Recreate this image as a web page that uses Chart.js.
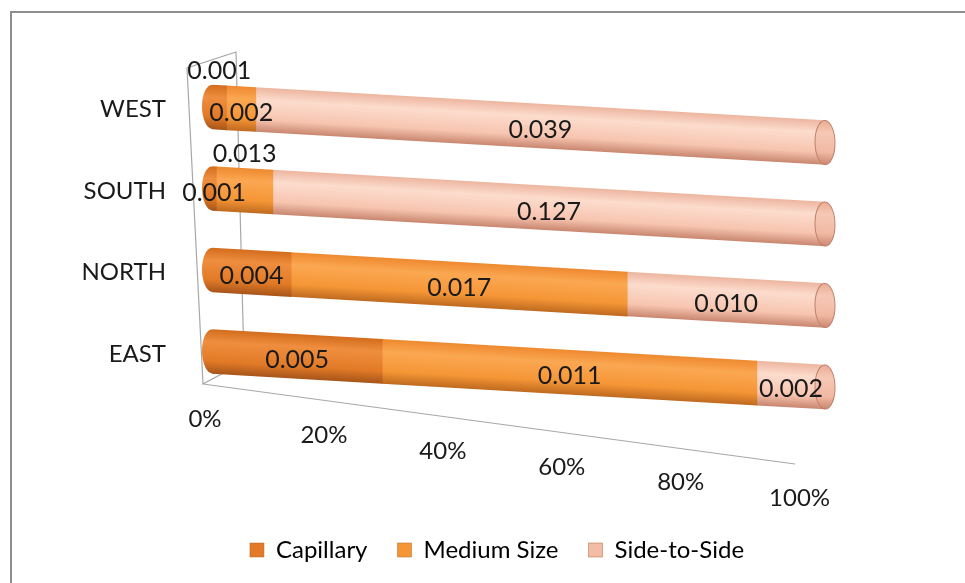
<!DOCTYPE html>
<html>
<head>
<meta charset="utf-8">
<script src="https://cdn.jsdelivr.net/npm/chart.js@4/dist/chart.umd.min.js"></script>
<style>
  html, body { margin: 0; padding: 0; background: #ffffff; overflow: hidden; }
  #frame { position: absolute; left: 10px; top: 11px; width: 1000px; height: 640px;
           border-left: 2px solid #8e8e8e; border-top: 2px solid #8e8e8e; }
  #wrap { position: absolute; left: 0; top: 0; width: 965px; height: 583px; }
</style>
</head>
<body>
<div id="frame"></div>
<div id="wrap"><canvas id="c" width="965" height="583"></canvas></div>
<script>
// ---- data ----
const categories   = ['WEST', 'SOUTH', 'NORTH', 'EAST'];
const seriesNames  = ['Capillary', 'Medium Size', 'Side-to-Side'];
const capillary    = [0.001, 0.001, 0.004, 0.005];
const mediumSize   = [0.002, 0.013, 0.017, 0.011];
const sideToSide   = [0.039, 0.127, 0.010, 0.002];
const xTickValues  = [0, 20, 40, 60, 80, 100];
const xTickLabels  = ['0%', '20%', '40%', '60%', '80%', '100%'];

// 100% stacked table built from the arrays
const rawSeries = [capillary, mediumSize, sideToSide];
const totals = categories.map((_, i) => capillary[i] + mediumSize[i] + sideToSide[i]);
const pctSeries = rawSeries.map(s => s.map((v, i) => v / totals[i] * 100));

// ---- styles ----
const FONT = 'Lato, "Open Sans", sans-serif';
const BAR_H = 44;
const SLOPE = 0.058;   // perspective tilt of the bars
const palettes = [
  ['#D46D1E', '#EE8E3E', '#E27A27', '#A8561A'],
  ['#EE8A30', '#FBA752', '#F59636', '#C06B20'],
  ['#EDB6A0', '#FCDCCD', '#F7C5B0', '#C98770']
];
const legendColors = ['#E27A27', '#F59636', '#F3BCA6'];
const raisedLabels = { '0-0': true, '1-1': true }; // category-series labels lifted above the bar

function cylGrad(c, yc, cols) {
  const g = c.createLinearGradient(0, yc - BAR_H / 2, 0, yc + BAR_H / 2);
  g.addColorStop(0, cols[0]);
  g.addColorStop(0.28, cols[1]);
  g.addColorStop(0.72, cols[2]);
  g.addColorStop(1, cols[3]);
  return g;
}

const framePlugin = {
  id: 'frame3d',
  beforeDatasetsDraw(chart) {
    const { ctx, chartArea: a } = chart;
    ctx.save();
    ctx.strokeStyle = '#a8a8a8';
    ctx.lineWidth = 1.2;
    ctx.beginPath();
    ctx.moveTo(a.left - 9, a.bottom - 26);
    ctx.lineTo(a.left - 25, a.top - 16);
    ctx.lineTo(a.left + 24, a.top - 32);
    ctx.lineTo(a.left + 32, a.bottom - 48);
    ctx.lineTo(a.left - 9, a.bottom - 26);
    ctx.lineTo(a.left + 583, a.bottom + 54);
    ctx.stroke();
    ctx.restore();
  }
};

const cylPlugin = {
  id: 'cylinders',
  beforeDatasetsDraw(chart) {
    const { ctx, chartArea: a } = chart;
    const x0 = (a.left + a.right) / 2;
    ctx.save();
    ctx.transform(1, SLOPE, 0, 1, 0, -SLOPE * x0);
  },
  afterDatasetsDraw(chart) {
    const { ctx, chartArea: a } = chart;
    const x0 = (a.left + a.right) / 2;
    const m0 = chart.getDatasetMeta(0), m1 = chart.getDatasetMeta(1), m2 = chart.getDatasetMeta(2);
    categories.forEach((_, i) => {
      const e0 = m0.data[i], e2 = m2.data[i];
      // left rounded end
      ctx.beginPath();
      ctx.ellipse(e0.base, e0.y, 10, BAR_H / 2, 0, Math.PI / 2, Math.PI * 1.5);
      ctx.closePath();
      ctx.fillStyle = cylGrad(ctx, e0.y, palettes[0]);
      ctx.fill();
      // right end cap
      ctx.beginPath();
      ctx.ellipse(e2.x, e2.y, 10, BAR_H / 2, 0, 0, Math.PI * 2);
      ctx.fillStyle = cylGrad(ctx, e2.y, ['#E9AC94', '#F6C8B5', '#F0B8A2', '#C98770']);
      ctx.fill();
      ctx.strokeStyle = '#C27F69';
      ctx.lineWidth = 1;
      ctx.stroke();
    });
    ctx.restore();
    // value labels (untilted text, placed on the tilted bars)
    ctx.save();
    ctx.font = '25px ' + FONT;
    ctx.fillStyle = '#1a1a1a';
    ctx.textAlign = 'center';
    ctx.textBaseline = 'middle';
    [m0, m1, m2].forEach((meta, d) => {
      meta.data.forEach((el, i) => {
        const x = (el.x + el.base) / 2;
        let y = el.y + SLOPE * (x - x0) + 4;
        if (raisedLabels[i + '-' + d]) y -= 40;
        ctx.fillText(rawSeries[d][i].toFixed(3), x, y);
      });
    });
    ctx.restore();
  }
};

const xLabelPlugin = {
  id: 'slantedTicks',
  afterDraw(chart) {
    const { ctx, chartArea: a, scales } = chart;
    ctx.save();
    ctx.font = '24px ' + FONT;
    ctx.fillStyle = '#1a1a1a';
    ctx.textAlign = 'center';
    ctx.textBaseline = 'middle';
    xTickValues.forEach((v, k) => {
      const px = scales.x.getPixelForValue(v);
      const x = a.left - 7 + (px - a.left) * 0.97;
      const y = a.bottom + 9 + (x - (a.left - 7)) * 0.134;
      ctx.fillText(xTickLabels[k], x, y);
    });
    ctx.restore();
  }
};

new Chart(document.getElementById('c'), {
  type: 'bar',
  data: {
    labels: categories,
    datasets: pctSeries.map((vals, d) => ({
      label: seriesNames[d],
      data: vals,
      backgroundColor: (ctx) => {
        const ch = ctx.chart;
        if (ctx.type !== 'data' || !ch.chartArea) return legendColors[d];
        const y = ch.scales.y.getPixelForValue(ctx.dataIndex);
        return cylGrad(ch.ctx, y, palettes[d]);
      },
      borderWidth: 0,
      borderSkipped: false,
      borderRadius: 0,
      barThickness: BAR_H
    }))
  },
  plugins: [framePlugin, cylPlugin, xLabelPlugin],
  options: {
    indexAxis: 'y',
    responsive: false,
    animation: false,
    layout: { padding: { left: 75, right: 46, top: 84, bottom: 11 } },
    scales: {
      x: {
        stacked: true, min: 0, max: 100,
        grid: { display: false }, border: { display: false },
        ticks: { display: false },
        afterFit: (s) => { s.height = 98; }
      },
      y: {
        stacked: true,
        grid: { display: false }, border: { display: false },
        ticks: { font: { family: FONT, size: 24 }, color: '#1a1a1a', padding: 38, labelOffset: -15 },
        afterFit: (s) => { s.width = 137; }
      },
      yRight: {
        type: 'category', labels: categories, position: 'right', axis: 'y',
        grid: { display: false }, border: { display: false },
        ticks: { display: false },
        afterFit: (s) => { s.width = 94; }
      }
    },
    plugins: {
      tooltip: { enabled: false },
      legend: {
        position: 'bottom',
        labels: {
          font: { family: FONT, size: 24 }, color: '#1a1a1a',
          boxWidth: 14, boxHeight: 14, padding: 30,
          generateLabels: (chart) => seriesNames.map((n, d) => ({
            text: n, fillStyle: legendColors[d], strokeStyle: '#B0642A', lineWidth: 0.5,
            datasetIndex: d, hidden: false
          }))
        }
      }
    }
  }
});
</script>
</body>
</html>
